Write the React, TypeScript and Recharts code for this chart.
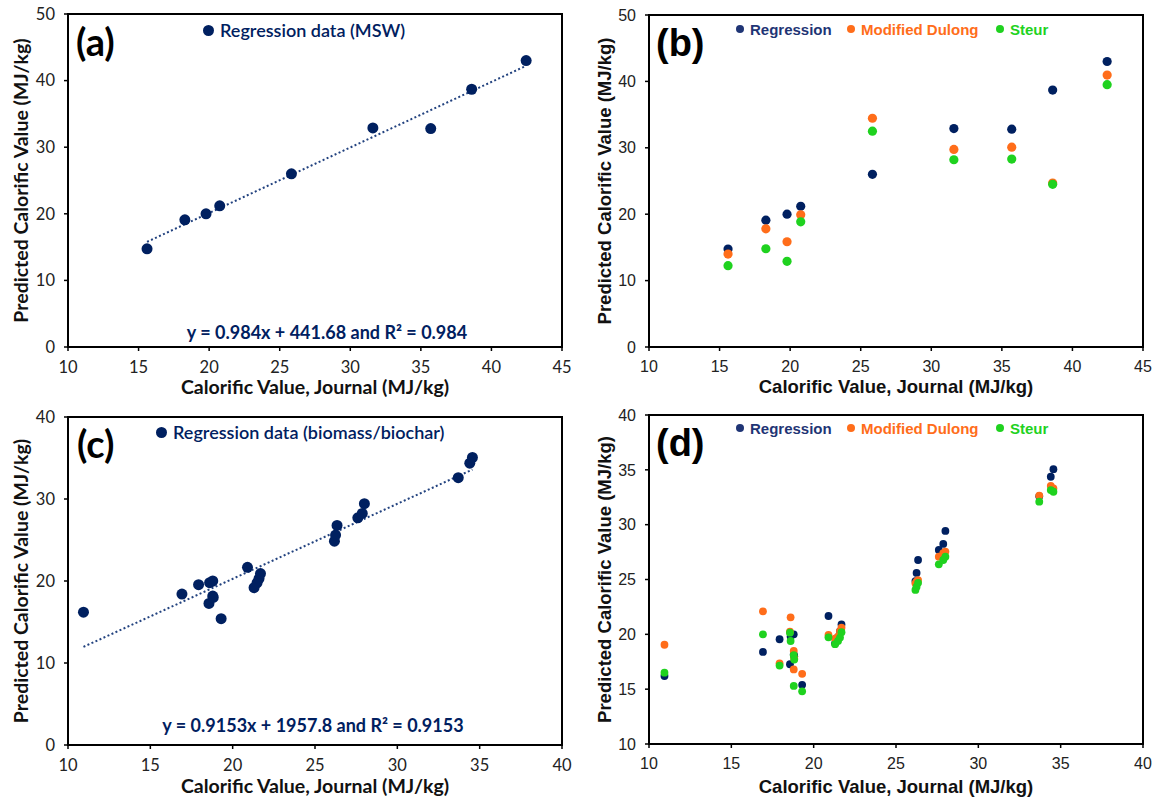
import React from "react";
import { ScatterChart, Scatter, XAxis, YAxis, ReferenceArea, ReferenceLine, Label } from "recharts";

// MSW samples (panels a, b): journal value vs predicted values, MJ/kg
const mswJournal = [15.6, 18.28, 19.78, 20.75, 25.83, 31.6, 35.7, 38.6, 42.46];
const mswRegression = [14.75, 19.1, 20.0, 21.2, 26.0, 32.9, 32.8, 38.7, 43.0];
const mswDulong = [14.0, 17.8, 15.85, 19.9, 34.45, 29.75, 30.1, 24.7, 40.95];
const mswSteur = [12.25, 14.8, 12.9, 18.85, 32.5, 28.2, 28.3, 24.5, 39.5];
const mswTrend = [
  [15.6, 15.79],
  [42.46, 42.22],
];

// biomass / biochar samples (panels c, d)
const bioJournal = [
  10.94, 16.92, 17.93, 18.56, 18.6, 18.79, 18.79, 18.82, 19.3, 20.9, 21.3, 21.48, 21.6, 21.69, 26.18, 26.25,
  26.34, 27.6, 27.87, 28.0, 33.7, 34.4, 34.56,
];
const bioRegression = [
  16.2, 18.4, 19.55, 17.27, 19.8, 20.0, 18.16, 18.0, 15.4, 21.67, 19.18, 19.76, 20.3, 20.9, 24.86, 25.6, 26.78,
  27.7, 28.24, 29.43, 32.6, 34.37, 35.06,
];
const bioDulong = [
  19.05, 22.1, 17.36, 20.24, 21.55, 18.48, 16.8, 17.8, 16.4, 19.95, 19.6, 19.8, 20.3, 20.6, 24.65, 24.8, 24.95,
  27.08, 27.4, 27.55, 32.65, 33.53, 33.3,
];
const bioSteur = [
  16.5, 20.0, 17.15, 20.15, 19.39, 18.1, 15.3, 17.7, 14.8, 19.73, 19.1, 19.4, 19.7, 20.2, 24.05, 24.35, 24.7,
  26.38, 26.78, 27.08, 32.1, 33.15, 33.0,
];
const bioTrend = [
  [10.94, 11.97],
  [34.56, 33.59],
];

const ticks45 = [10, 15, 20, 25, 30, 35, 40, 45];
const ticks40 = [10, 15, 20, 25, 30, 35, 40];
const yTicks50 = [0, 10, 20, 30, 40, 50];
const yTicks40 = [0, 10, 20, 30, 40];
const yTicksD = [10, 15, 20, 25, 30, 35, 40];

const xTitle = "Calorific Value, Journal (MJ/kg)";
const yTitle = "Predicted Calorific Value (MJ/kg)";

const NAVY = "#002060";
const ORANGE = "#ff6d1a";
const GREEN = "#1fd21f";
const TREND = "#22427f";

const CALIBRI = "Lato, 'Noto Sans', sans-serif";
const ARIAL = "'Liberation Sans', Arial, sans-serif";

const rows = (xs: number[], ys: number[]) => xs.map((x, i) => ({ x, y: ys[i] }));

type Series = { data: { x: number; y: number }[]; color: string; r: number };
type LegendItem = { text: string; color: string; dotX: number; textX: number };

type PanelProps = {
  left: number;
  top: number;
  width: number;
  height: number;
  marginTop: number;
  marginRight: number;
  yAxisWidth: number;
  xAxisHeight: number;
  xDomain: [number, number];
  xTicks: number[];
  yDomain: [number, number];
  yTicks: number[];
  font: string;
  tickSize: number;
  titleSize: number;
  yTitleX: number;
  xTitleDy: number;
  series: Series[];
  trend?: number[][];
  letter: string;
  letterX: number;
  letterY: number;
  letterSize: number;
  legend: LegendItem[];
  legendY: number;
  legendSize: number;
  legendWeight: number;
  dotR: number;
  equation?: { text: string; x: number; y: number };
};

function Panel(p: PanelProps) {
  const tickStyle = { fontFamily: p.font, fontSize: p.tickSize, fill: "#222" };
  const titleStyle = { fontFamily: p.font, fontSize: p.titleSize, fontWeight: 700, fill: "#111" };
  return (
    <div style={{ position: "absolute", left: p.left, top: p.top, width: p.width, height: p.height }}>
      <ScatterChart
        width={p.width}
        height={p.height}
        margin={{ top: p.marginTop, right: p.marginRight, bottom: 0, left: 0 }}
      >
        <XAxis
          type="number"
          dataKey="x"
          domain={p.xDomain}
          ticks={p.xTicks}
          interval={0}
          allowDataOverflow
          height={p.xAxisHeight}
          axisLine={{ stroke: "#000", strokeWidth: 2 }}
          tickLine={{ stroke: "#000", strokeWidth: 1.5 }}
          tickSize={4}
          tickMargin={10}
          tick={tickStyle}
        >
          <Label
            content={(props: any) => {
              const vb = props.viewBox;
              return (
                <text x={vb.x + vb.width / 2} y={vb.y + p.xTitleDy} textAnchor="middle" style={titleStyle}>
                  {xTitle}
                </text>
              );
            }}
          />
        </XAxis>
        <YAxis
          type="number"
          dataKey="y"
          domain={p.yDomain}
          ticks={p.yTicks}
          interval={0}
          allowDataOverflow
          width={p.yAxisWidth}
          axisLine={{ stroke: "#000", strokeWidth: 2 }}
          tickLine={{ stroke: "#000", strokeWidth: 1.5 }}
          tickSize={4}
          tickMargin={9}
          tick={tickStyle}
        >
          <Label
            content={(props: any) => {
              const vb = props.viewBox;
              const cx = p.yTitleX;
              const cy = vb.y + vb.height / 2;
              return (
                <text
                  x={cx}
                  y={cy}
                  transform={`rotate(-90 ${cx} ${cy})`}
                  textAnchor="middle"
                  dominantBaseline="central"
                  style={titleStyle}
                >
                  {yTitle}
                </text>
              );
            }}
          />
        </YAxis>
        {p.trend && (
          <ReferenceLine
            segment={p.trend.map(([x, y]) => ({ x, y }))}
            stroke={TREND}
            strokeWidth={2}
            strokeDasharray="2 2.4"
          />
        )}
        {p.series.map((s, i) => (
          <Scatter
            key={i}
            data={s.data}
            isAnimationActive={false}
            fill={s.color}
            shape={(sp: any) => <circle cx={sp.cx} cy={sp.cy} r={s.r} fill={s.color} />}
          />
        ))}
        <ReferenceArea
          x1={p.xDomain[0]}
          x2={p.xDomain[1]}
          y1={p.yDomain[0]}
          y2={p.yDomain[1]}
          fill="none"
          stroke="#000"
          strokeWidth={2}
          ifOverflow="visible"
        />
      </ScatterChart>
      <div
        style={{
          position: "absolute",
          left: p.letterX,
          top: p.letterY,
          transform: "translateY(-50%)",
          fontFamily: p.font,
          fontSize: p.letterSize,
          fontWeight: 700,
          lineHeight: 1,
          color: "#000",
          whiteSpace: "nowrap",
        }}
      >
        {p.letter}
      </div>
      {p.legend.map((item) => (
        <React.Fragment key={item.text}>
          <div
            style={{
              position: "absolute",
              left: item.dotX - p.dotR,
              top: p.legendY - p.dotR,
              width: p.dotR * 2,
              height: p.dotR * 2,
              borderRadius: "50%",
              background: item.color,
            }}
          />
          <div
            style={{
              position: "absolute",
              left: item.textX,
              top: p.legendY,
              transform: "translateY(-50%)",
              fontFamily: p.font,
              fontSize: p.legendSize,
              fontWeight: p.legendWeight,
              lineHeight: 1,
              color: item.color,
              whiteSpace: "nowrap",
            }}
          >
            {item.text}
          </div>
        </React.Fragment>
      ))}
      {p.equation && (
        <div
          style={{
            position: "absolute",
            left: p.equation.x,
            top: p.equation.y,
            transform: "translate(-50%, -50%)",
            fontFamily: p.font,
            fontSize: 18,
            fontWeight: 700,
            lineHeight: 1,
            color: NAVY,
            whiteSpace: "nowrap",
          }}
        >
          {p.equation.text}
        </div>
      )}
    </div>
  );
}

const comparisonLegend: LegendItem[] = [
  { text: "Regression", color: "#1f3575", dotX: 162, textX: 172 },
  { text: "Modified Dulong", color: ORANGE, dotX: 273, textX: 283 },
  { text: "Steur", color: GREEN, dotX: 422, textX: 432 },
];

export default function App() {
  return (
    <div style={{ position: "absolute", left: 0, top: 0, width: 1156, height: 799, background: "#fff" }}>
      <Panel
        left={0}
        top={0}
        width={580}
        height={400}
        marginTop={14}
        marginRight={18}
        yAxisWidth={68}
        xAxisHeight={53}
        xDomain={[10, 45]}
        xTicks={ticks45}
        yDomain={[0, 50]}
        yTicks={yTicks50}
        font={CALIBRI}
        tickSize={16.5}
        titleSize={19.5}
        yTitleX={20}
        xTitleDy={47}
        series={[{ data: rows(mswJournal, mswRegression), color: NAVY, r: 5.5 }]}
        trend={mswTrend}
        letter="(a)"
        letterX={76}
        letterY={41}
        letterSize={38}
        legend={[{ text: "Regression data (MSW)", color: NAVY, dotX: 208, textX: 220 }]}
        legendY={30}
        legendSize={18}
        legendWeight={600}
        dotR={5.5}
        equation={{ text: "y = 0.984x + 441.68 and R² = 0.984", x: 327, y: 332 }}
      />
      <Panel
        left={578}
        top={0}
        width={578}
        height={400}
        marginTop={15}
        marginRight={13}
        yAxisWidth={71}
        xAxisHeight={53}
        xDomain={[10, 45]}
        xTicks={ticks45}
        yDomain={[0, 50]}
        yTicks={yTicks50}
        font={ARIAL}
        tickSize={16}
        titleSize={18.5}
        yTitleX={26}
        xTitleDy={46}
        series={[
          { data: rows(mswJournal, mswRegression), color: NAVY, r: 4.6 },
          { data: rows(mswJournal, mswDulong), color: ORANGE, r: 4.6 },
          { data: rows(mswJournal, mswSteur), color: GREEN, r: 4.6 },
        ]}
        letter="(b)"
        letterX={78}
        letterY={43}
        letterSize={38}
        legend={comparisonLegend}
        legendY={29}
        legendSize={15}
        legendWeight={700}
        dotR={4.2}
      />
      <Panel
        left={0}
        top={400}
        width={580}
        height={399}
        marginTop={17}
        marginRight={18}
        yAxisWidth={68}
        xAxisHeight={54}
        xDomain={[10, 40]}
        xTicks={ticks40}
        yDomain={[0, 40]}
        yTicks={yTicks40}
        font={CALIBRI}
        tickSize={16.5}
        titleSize={19.5}
        yTitleX={20}
        xTitleDy={48}
        series={[{ data: rows(bioJournal, bioRegression), color: NAVY, r: 5.5 }]}
        trend={bioTrend}
        letter="(c)"
        letterX={77}
        letterY={43}
        letterSize={38}
        legend={[{ text: "Regression data (biomass/biochar)", color: NAVY, dotX: 161, textX: 173 }]}
        legendY={32}
        legendSize={18}
        legendWeight={600}
        dotR={5.5}
        equation={{ text: "y = 0.9153x + 1957.8 and R² = 0.9153", x: 313, y: 325 }}
      />
      <Panel
        left={578}
        top={400}
        width={578}
        height={399}
        marginTop={15}
        marginRight={13}
        yAxisWidth={71}
        xAxisHeight={55}
        xDomain={[10, 40]}
        xTicks={ticks40}
        yDomain={[10, 40]}
        yTicks={yTicksD}
        font={ARIAL}
        tickSize={16}
        titleSize={18.5}
        yTitleX={26}
        xTitleDy={49}
        series={[
          { data: rows(bioJournal, bioRegression), color: NAVY, r: 3.9 },
          { data: rows(bioJournal, bioDulong), color: ORANGE, r: 3.9 },
          { data: rows(bioJournal, bioSteur), color: GREEN, r: 3.9 },
        ]}
        letter="(d)"
        letterX={78}
        letterY={43}
        letterSize={38}
        legend={comparisonLegend}
        legendY={28}
        legendSize={15}
        legendWeight={700}
        dotR={4.2}
      />
    </div>
  );
}
